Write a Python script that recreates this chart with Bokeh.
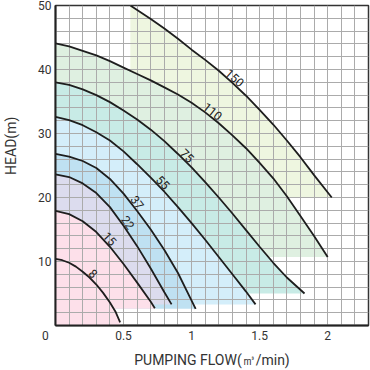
import math
import numpy as np
from bokeh.plotting import figure
from bokeh.models import ColumnDataSource, FixedTicker, Range1d, CustomJSTickFormatter
from bokeh.core.properties import value
from bokeh.embed import file_html
from bokeh.resources import INLINE

# ---------------- data ----------------
models = ["8", "15", "22", "37", "55", "75", "110", "150"]

flow_8 = [0, 0.05, 0.1, 0.15, 0.2, 0.25, 0.3, 0.35, 0.4, 0.44, 0.475]
head_8 = [10.4, 10.2, 9.8, 9.2, 8.4, 7.5, 6.4, 5.1, 3.6, 2.2, 0.5]

flow_15 = [0, 0.1, 0.2, 0.3, 0.4, 0.5, 0.6, 0.7, 0.73]
head_15 = [17.9, 17.4, 16.3, 14.6, 12.3, 9.6, 6.7, 3.7, 2.7]

flow_22 = [0, 0.1, 0.2, 0.3, 0.4, 0.5, 0.6, 0.7, 0.8, 0.853]
head_22 = [23.6, 23.2, 22.2, 20.7, 18.5, 15.6, 12.4, 8.9, 5.2, 3.3]

flow_37 = [0, 0.1, 0.2, 0.3, 0.4, 0.5, 0.6, 0.7, 0.8, 0.9, 1.0, 1.03]
head_37 = [26.8, 26.4, 25.7, 24.6, 22.9, 20.6, 17.9, 15.0, 11.8, 8.2, 3.9, 2.6]

flow_55 = [0, 0.1, 0.2, 0.3, 0.4, 0.5, 0.6, 0.7, 0.8, 0.9, 1.0, 1.1, 1.2, 1.3, 1.4, 1.47]
head_55 = [32.6, 32.1, 31.3, 30.2, 28.9, 27.2, 25.2, 23.1, 20.9, 18.5, 16.0, 13.4, 10.7, 8.0, 5.3, 3.3]

flow_75 = [0, 0.1, 0.2, 0.3, 0.4, 0.5, 0.6, 0.7, 0.8, 0.9, 1.0, 1.1, 1.2, 1.3, 1.4, 1.5, 1.6, 1.7, 1.83]
head_75 = [38.0, 37.6, 36.9, 36.0, 34.9, 33.6, 32.2, 30.6, 28.8, 26.8, 24.7, 22.4, 20.0, 17.5, 14.9, 12.3, 9.8, 7.5, 5.0]

flow_110 = [0, 0.1, 0.2, 0.3, 0.4, 0.5, 0.6, 0.7, 0.8, 0.9, 1.0, 1.1, 1.2, 1.3, 1.4, 1.5, 1.6, 1.7, 1.8, 1.9, 2.0]
head_110 = [44.1, 43.6, 42.9, 42.2, 41.3, 40.3, 39.3, 38.3, 37.2, 36.1, 34.8, 33.3, 31.6, 29.7, 27.7, 25.4, 23.0, 20.2, 17.1, 14.0, 10.7]

flow_150 = [0.55, 0.6, 0.7, 0.8, 0.9, 1.0, 1.1, 1.2, 1.3, 1.4, 1.5, 1.6, 1.7, 1.8, 1.9, 2.03]
head_150 = [50.0, 49.3, 47.9, 46.4, 44.8, 43.1, 41.5, 39.8, 37.9, 35.9, 33.7, 31.4, 28.9, 26.3, 23.5, 20.0]

curve_flows = [flow_8, flow_15, flow_22, flow_37, flow_55, flow_75, flow_110, flow_150]
curve_heads = [head_8, head_15, head_22, head_37, head_55, head_75, head_110, head_150]

region_floor = [0.0, 2.6, 3.3, 2.6, 3.3, 5.0, 10.7, 20.0]
region_colors = ["#fde0ea", "#fde0ea", "#dcdcee", "#bfe1f2",
                 "#d4eefa", "#c8ebe6", "#dff0e1", "#eef6e0"]
label_flow = [0.25, 0.37, 0.50, 0.57, 0.76, 0.94, 1.13, 1.29]

x_ticks = [0, 0.5, 1, 1.5, 2]
y_ticks = [10, 20, 30, 40, 50]
X_MAX, Y_MAX = 2.3, 50

# ---------------- layout ----------------
W, H = 370, 370
BL, BR, BT, BB = 52, 2, 5, 40
FW, FH = W - BL - BR, H - BT - BB
kx, ky = FW / X_MAX, FH / Y_MAX
FONT = value("Roboto")
FIG_SPACE = "\u2007"

p = figure(width=W, height=H, x_range=Range1d(0, X_MAX), y_range=Range1d(0, Y_MAX),
           output_backend="svg", toolbar_location=None,
           min_border_left=BL, min_border_right=BR, min_border_top=BT, min_border_bottom=BB)
p.background_fill_color = "white"
p.border_fill_color = "white"
p.outline_line_color = "#333333"
p.outline_line_width = 1.5

# regions (largest first)
xs, ys = [], []
for f, h, fl in zip(curve_flows, curve_heads, region_floor):
    xs.append(list(f) + [f[-1], f[0]])
    ys.append(list(h) + [fl, fl])
reg_src = ColumnDataSource(dict(xs=xs[::-1], ys=ys[::-1], c=region_colors[::-1]))
reg = p.patches("xs", "ys", source=reg_src, fill_color="c", line_color=None)
reg.level = "image"

# grid
p.xgrid.ticker = FixedTicker(ticks=[round(0.1 * i, 1) for i in range(1, 23)])
p.ygrid.ticker = FixedTicker(ticks=list(range(2, 50, 2)))
p.grid.grid_line_color = "#ababab"
p.grid.grid_line_width = 1

# curves
p.multi_line(curve_flows, curve_heads, line_color="#1e1e1e", line_width=1.8)

# curve labels
lx, ly, la = [], [], []
for f, h, q in zip(curve_flows, curve_heads, label_flow):
    hq = float(np.interp(q, f, h))
    slope = (np.interp(q + 0.03, f, h) - np.interp(q - 0.03, f, h)) / 0.06
    a = math.atan(slope * ky / kx)
    g = 1.0
    lx.append(q - math.sin(a) * g / kx)
    ly.append(hq + math.cos(a) * g / ky)
    la.append(a)
p.text(x=lx, y=ly, text=models, angle=la, text_align="center", text_baseline="bottom",
       text_font=FONT, text_font_size="12px", text_color="#222222")

# axes
for ax in (p.xaxis[0], p.yaxis[0]):
    ax.major_tick_out = 0
    ax.major_tick_in = 0
    ax.minor_tick_out = 0
    ax.minor_tick_in = 0
    ax.axis_line_width = 2
    ax.axis_line_color = "#222222"
    ax.major_label_text_font = "Roboto"
    ax.major_label_text_font_size = "12px"
    ax.major_label_text_color = "#333333"
    ax.axis_label_text_font = "Roboto"
    ax.axis_label_text_font_size = "14px"
    ax.axis_label_text_font_style = "normal"
    ax.axis_label_text_color = "#333333"

p.xaxis.ticker = FixedTicker(ticks=x_ticks)
p.yaxis.ticker = FixedTicker(ticks=y_ticks)
# the corner "0" sits left of the axis: pad it with figure spaces so it shifts left
p.xaxis.formatter = CustomJSTickFormatter(
    code="return tick == 0 ? '0\u2007\u2007\u2007' : tick.toString()")
p.xaxis.axis_label = "PUMPING FLOW(㎥/min)"
# the y title sits above the centre of the axis: leading figure spaces shift it up
p.yaxis.axis_label = FIG_SPACE * 5 + "HEAD(m)"
p.xaxis.major_label_standoff = 3
p.yaxis.major_label_standoff = 4
p.xaxis.axis_label_standoff = 6
p.yaxis.axis_label_standoff = 16

open("out.html", "w").write(file_html(p, INLINE))
